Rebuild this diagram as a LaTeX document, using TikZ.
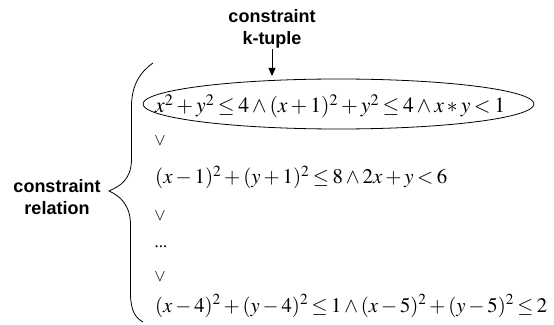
\documentclass[tikz,border=0pt]{standalone}
\usepackage{mathptmx}
\usepackage{fontspec}
\setmainfont{Liberation Serif}
\newfontfamily\lblfont{Liberation Sans}
\usetikzlibrary{arrows.meta,shapes.geometric}
\begin{document}
\thickmuskip=3mu plus 2mu
\begin{tikzpicture}[x=1pt,y=1pt,
  lbl/.style={font=\lblfont\bfseries\fontsize{18}{22}\selectfont, anchor=base, inner sep=0pt},
  eq/.style={font=\fontsize{23}{27}\selectfont, anchor=base west, inner sep=0pt},
  orsep/.style={font=\fontsize{17}{20}\selectfont, inner sep=0pt},
  line/.style={draw=black, line width=0.8pt},
  ]
\useasboundingbox (0,0) rectangle (554,324);
% top label and arrow
\node[lbl] (tk1) at (272,301) {constraint};
\node[lbl] (tk2) at (272,279) {k-tuple};
\coordinate (tip) at (272,248);
\draw[line, -{Triangle[length=8pt,width=7pt]}] (tk2.south) -- (tip);
% ellipse around first tuple
\node[ellipse, line, minimum width=391pt, minimum height=50pt, inner sep=0pt] (el) at (338.5,220) {};
% formulas
\node[eq] (f1) at (155,211) {\resizebox{350pt}{!}{$x^2+y^2\le 4\wedge(x+1)^2+y^2\le 4\wedge x*y<1$}};
\node[orsep] (o1) at (160,183) {$\vee$};
\node[eq] (f2) at (155,140) {\resizebox{292pt}{!}{$(x-1)^2+(y+1)^2\le 8\wedge 2x+y<6$}};
\node[orsep] (o2) at (160,108) {$\vee$};
\node[orsep] (dots) at (161,77) {...};
\node[orsep] (o3) at (160,47) {$\vee$};
\node[eq] (f4) at (155,12) {\resizebox{392pt}{!}{$(x-4)^2+(y-4)^2\le 1\wedge(x-5)^2+(y-5)^2\le 2$}};
% brace
\draw[line] (153,261) .. controls (140,252) and (132,239) .. (131.5,219)
  -- (131.5,164) .. controls (131,144) and (120,138) .. (109,133)
  .. controls (120,128) and (130.5,119) .. (130.5,99)
  -- (130.5,29) .. controls (131,12) and (136,6) .. (143,2);
% left label
\node[lbl] (cr1) at (57,131) {constraint};
\node[lbl] (cr2) at (57,109) {relation};
\end{tikzpicture}
\end{document}
